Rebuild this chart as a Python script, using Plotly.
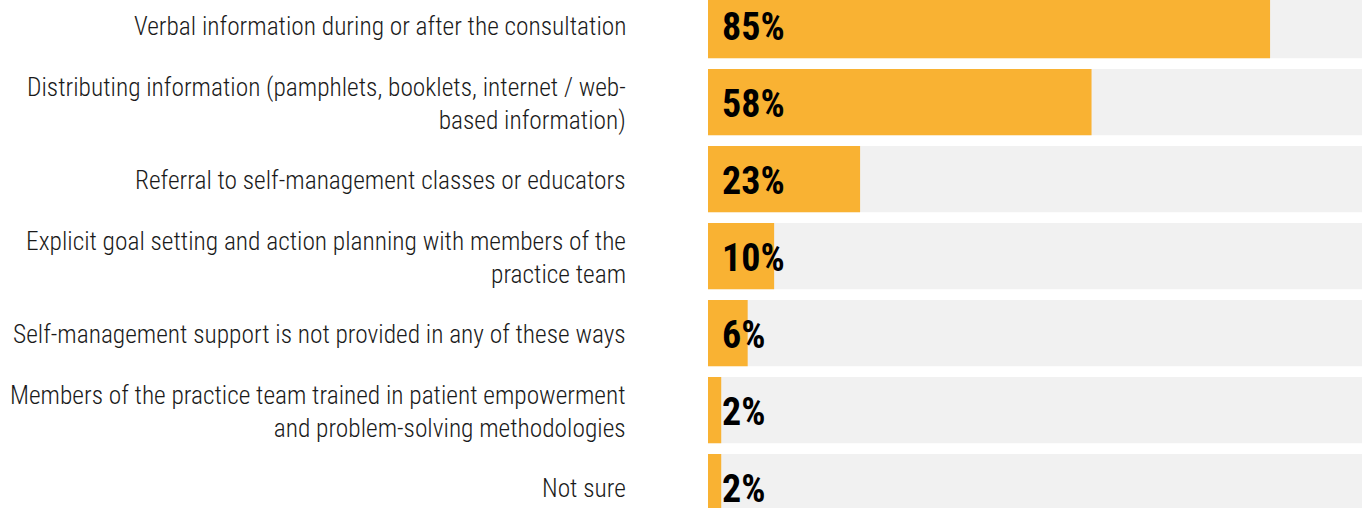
import plotly.graph_objects as go

categories = [
    "Verbal information during or after the consultation",
    "Distributing information (pamphlets, booklets, internet / web-<br>based information)",
    "Referral to self-management classes or educators",
    "Explicit goal setting and action planning with members of the<br>practice team",
    "Self-management support is not provided in any of these ways",
    "Members of the practice team trained in patient empowerment<br>and problem-solving methodologies",
    "Not sure",
]
values = [85, 58, 23, 10, 6, 2, 2]
full = [100] * len(values)
labels = [f"{v}%" for v in values]

ORANGE = "#F9B233"
GRAY = "#F1F1F1"
FONT = "Roboto Condensed, Liberation Sans Narrow, DejaVu Sans Condensed, sans-serif"

fig = go.Figure()
fig.add_trace(go.Bar(y=categories, x=full, orientation="h", marker=dict(color=GRAY, line=dict(width=0)),
                     width=0.86, hoverinfo="skip", showlegend=False))
fig.add_trace(go.Bar(y=categories, x=values, orientation="h", marker=dict(color=ORANGE, line=dict(width=0)),
                     width=0.86, hoverinfo="skip", showlegend=False))

annotations = []
for cat, lab in zip(categories, labels):
    annotations.append(dict(x=0, y=cat, xref="x", yref="y", text=lab, showarrow=False,
                            xanchor="left", yanchor="middle", xshift=12, yshift=-2,
                            font=dict(family=FONT, size=38, color="#000000", weight="bold")))
    annotations.append(dict(x=0, y=cat, xref="paper", yref="y", text=cat, showarrow=False,
                            xanchor="right", yanchor="middle", align="right",
                            xshift=-80, yshift=-1,
                            font=dict(family=FONT, size=25.4, color="#1a1a1a", weight=300)))

fig.update_layout(
    width=1362, height=508,
    margin=dict(l=708, r=0, t=0, b=0),
    barmode="overlay",
    plot_bgcolor="white", paper_bgcolor="white",
    xaxis=dict(range=[0, 98.9], visible=False, fixedrange=True),
    yaxis=dict(range=[6.27, -0.325], showgrid=False, zeroline=False, showline=False,
               ticks="", showticklabels=False, fixedrange=True),
    font=dict(family=FONT),
    annotations=annotations,
)
fig.write_html("out.html", config={"displayModeBar": False},
               post_script="document.body.style.margin='0';")
